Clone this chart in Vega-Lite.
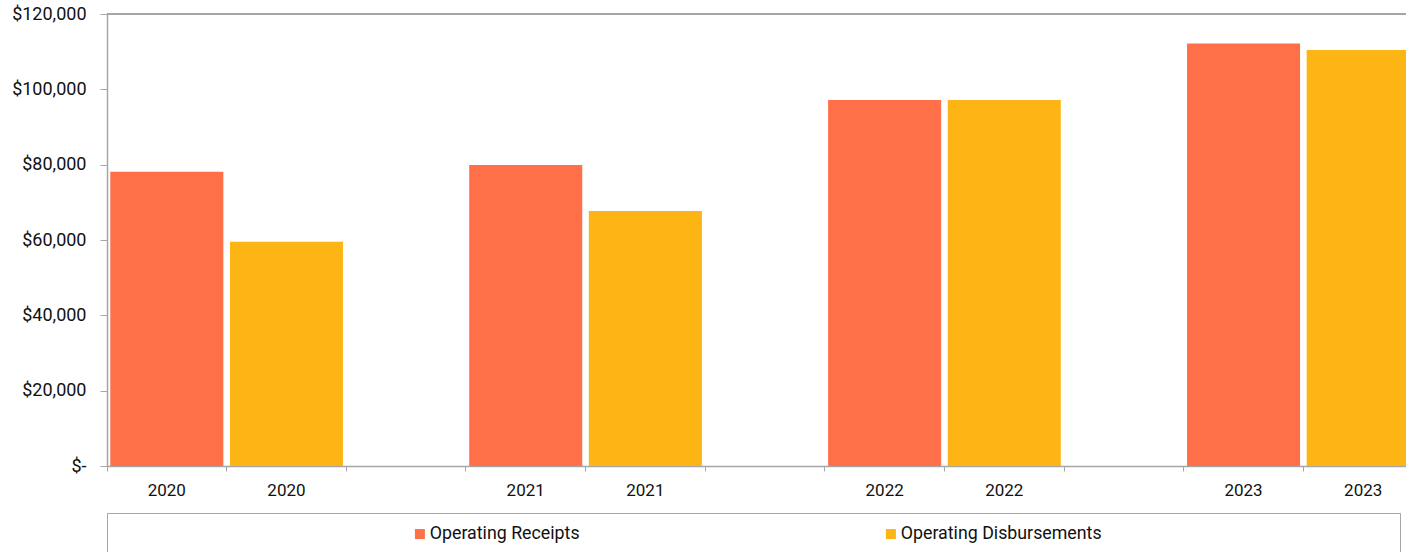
{
  "$schema": "https://vega.github.io/schema/vega-lite/v6.json",
  "autosize": "none",
  "width": 1299,
  "height": 452,
  "padding": {"left": 107, "top": 14, "right": 0, "bottom": 86},
  "background": "white",
  "config": {
    "view": {"stroke": null},
    "font": "Roboto"
  },
  "data": {
    "values": [
      {"slot": "2020 R", "series": "Operating Receipts", "value": 78100},
      {"slot": "2020 D", "series": "Operating Disbursements", "value": 59550},
      {"slot": "2021 R", "series": "Operating Receipts", "value": 79900},
      {"slot": "2021 D", "series": "Operating Disbursements", "value": 67700},
      {"slot": "2022 R", "series": "Operating Receipts", "value": 97200},
      {"slot": "2022 D", "series": "Operating Disbursements", "value": 97200},
      {"slot": "2023 R", "series": "Operating Receipts", "value": 112200},
      {"slot": "2023 D", "series": "Operating Disbursements", "value": 110450}
    ]
  },
  "layer": [
    {
      "mark": {"type": "bar", "width": {"band": 0.945}, "clip": true},
      "encoding": {
        "x": {
          "field": "slot",
          "type": "nominal",
          "sort": null,
          "scale": {
            "domain": ["2020 R", "2020 D", "gap1", "2021 R", "2021 D", "gap2", "2022 R", "2022 D", "gap3", "2023 R", "2023 D"],
            "range": [0, 1316],
            "paddingInner": 0,
            "paddingOuter": 0
          },
          "axis": {
            "title": null,
            "bandPosition": 0,
            "labelAngle": 0,
            "labelExpr": "indexof(datum.label, 'gap') == 0 ? '' : slice(datum.label, 0, 4)",
            "labelFont": "Roboto",
            "labelFontSize": 17,
            "labelColor": "#111111",
            "labelPadding": 11,
            "tickSize": 5,
            "tickColor": "#a6a6a6",
            "domainColor": "#a6a6a6",
            "domainWidth": 1.5,
            "grid": false
          }
        },
        "y": {
          "field": "value",
          "type": "quantitative",
          "scale": {"domain": [0, 120000], "nice": false},
          "axis": {
            "title": null,
            "values": [0, 20000, 40000, 60000, 80000, 100000, 120000],
            "labelExpr": "datum.value == 0 ? '$-' : '$' + format(datum.value, ',')",
            "labelFont": "Roboto",
            "labelFontSize": 18,
            "labelColor": "#111111",
            "labelPadding": 14,
            "tickSize": 7,
            "tickColor": "#a6a6a6",
            "domainColor": "#a6a6a6",
            "domainWidth": 1.5,
            "grid": false
          }
        },
        "color": {
          "field": "series",
          "type": "nominal",
          "sort": ["Operating Receipts", "Operating Disbursements"],
          "scale": {"domain": ["Operating Receipts", "Operating Disbursements"], "range": ["#ff7049", "#fdb515"]},
          "legend": {
            "title": null,
            "orient": "none",
            "legendX": 0,
            "legendY": 499,
            "direction": "horizontal",
            "columns": 2,
            "padding": 12,
            "strokeColor": "#a6a6a6",
            "fillColor": "white",
            "symbolType": "square",
            "symbolSize": 100,
            "symbolStrokeWidth": 0,
            "symbolOffset": 292,
            "labelOffset": 1,
            "labelFont": "Roboto",
            "labelFontSize": 17.8,
            "labelColor": "#111111",
            "labelLimit": 2000,
            "columnPadding": 10,
            "labelExpr": "datum.label == 'Operating Disbursements' ? pad(datum.label, 45, '\u2800') : datum.label"
          }
        }
      }
    },
    {
      "mark": {"type": "rule", "color": "#a6a6a6", "strokeWidth": 1.5},
      "encoding": {"y": {"datum": 120000}}
    }
  ]
}
